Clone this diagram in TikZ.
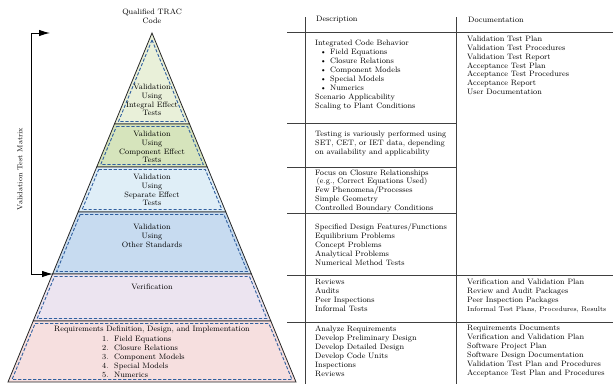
\documentclass[tikz,border=0pt]{standalone}
\usepackage{xcolor}
\usepackage{tikz}
\usetikzlibrary{arrows.meta, calc}
\definecolor{IntGreen}{RGB}{233,240,217}
\definecolor{CompGreen}{RGB}{214,228,188}
\definecolor{SepBlue}{RGB}{223,238,247}
\definecolor{OthBlue}{RGB}{199,219,240}
\definecolor{VerLav}{RGB}{236,228,240}
\definecolor{ReqPink}{RGB}{246,223,223}
\definecolor{DashBlue}{RGB}{47,95,160}

\begin{document}
\begin{tikzpicture}[x=1pt, y=-1pt,
      layer/.style={draw=black!85, line width=0.8pt},
      inset/.style={draw=DashBlue, line width=0.9pt, dash pattern=on 3.2pt off 1.8pt},
      lbl/.style={font=\fontsize{7.8}{8.8}\selectfont, align=center, inner sep=0pt},
      cell/.style={font=\fontsize{7.8}{9}\selectfont, align=left,
                   anchor=north west, inner sep=0pt},
      rule/.style={draw=black!75, line width=0.7pt}
    ]
    \useasboundingbox (0,0) rectangle (613,384);

    % Pyramid corners
    \coordinate (apex) at (152,33);
    \coordinate (bl) at (8,382);
    \coordinate (br) at (296,382);

    % Top layer
    \pgfmathsetmacro\tb{(124-33)/349}
    \pgfmathsetmacro\td{(121.5-33)/349}
    \filldraw[layer, fill=IntGreen] (apex) -- ($(apex)!\tb!(br)$) -- ($(apex)!\tb!(bl)$) -- cycle;
    \draw[inset] ($(apex)+(0,7)$) -- ($(apex)!\td!(br)+(-3,0)$) -- ($(apex)!\td!(bl)+(3,0)$) -- cycle;

    % Lower layers
    \foreach \ya/\yb/\col in {124/167/CompGreen, 167/212/SepBlue, 212/274/OthBlue,
                              274/321/VerLav, 321/382/ReqPink} {
      \pgfmathsetmacro\ta{(\ya-33)/349}
      \pgfmathsetmacro\tb{(\yb-33)/349}
      \pgfmathsetmacro\tc{(\ya+2.5-33)/349}
      \pgfmathsetmacro\td{(\yb-2.5-33)/349}
      \filldraw[layer, fill=\col] ($(apex)!\ta!(bl)$) -- ($(apex)!\ta!(br)$)
        -- ($(apex)!\tb!(br)$) -- ($(apex)!\tb!(bl)$) -- cycle;
      \draw[inset] ($(apex)!\tc!(bl)+(3,0)$) -- ($(apex)!\tc!(br)+(-3,0)$)
        -- ($(apex)!\td!(br)+(-3,0)$) -- ($(apex)!\td!(bl)+(3,0)$) -- cycle;
    }

    % Pyramid labels
    \node[lbl] (trac) at (152,16) {Qualified TRAC\\Code};
    \node[lbl] (integ) at (152,100) {Validation\\Using\\Integral Effect\\Tests};
    \node[lbl] (comp) at (152,147) {Validation\\Using\\Component Effect\\Tests};
    \node[lbl] (sep) at (152,190) {Validation\\Using\\Separate Effect\\Tests};
    \node[lbl] (other) at (152,236) {Validation\\Using\\Other Standards};
    \node[lbl] (verif) at (152,287) {Verification};
    \node[lbl] (reqs) at (152,330) {Requirements Definition, Design, and Implementation};
    \node[cell] (reqlist) at (102,336)
          {1.\ \ Field Equations\\2.\ \ Closure Relations\\3.\ \ Component Models\\
           4.\ \ Special Models\\5.\ \ Numerics};

    % Validation matrix bracket
    \node[lbl, rotate=90, font=\fontsize{7.2}{8}\selectfont] (matrix) at (20,169) {Validation Test Matrix};
    \coordinate (mtip) at (50,33);
    \coordinate (mtop) at (31,33);
    \coordinate (mbot) at (31,274);
    \coordinate (mend) at (53,274);
    \draw[line width=1pt, {Latex[length=11pt,width=6.5pt]}-{Latex[length=11pt,width=6.5pt]}]
          (mtip) -- (mtop) -- (mbot) -- (mend);

    % Table rules
    \draw[rule] (305,17) -- (305,384);
    \draw[rule] (456,17) -- (456,384);
    \foreach \y in {32,275,322} {
      \draw[rule] (287,\y) -- (613,\y);
    }
    \foreach \y in {123,167,213} {
      \draw[rule] (287,\y) -- (456,\y);
    }

    % Headers
    \node[cell, anchor=west] (deschead) at (316,20) {Description};
    \node[cell, anchor=west] (dochead) at (468,20) {Documentation};

    % Description column
    \node[cell] (descint) at (315,40)
          {Integrated Code Behavior\\
           \hspace{5pt}\textbullet\hspace{3.5pt}Field Equations\\
           \hspace{5pt}\textbullet\hspace{3.5pt}Closure Relations\\
           \hspace{5pt}\textbullet\hspace{3.5pt}Component Models\\
           \hspace{5pt}\textbullet\hspace{3.5pt}Special Models\\
           \hspace{5pt}\textbullet\hspace{3.5pt}Numerics\\
           Scenario Applicability\\Scaling to Plant Conditions};
    \node[cell] (desccomp) at (315,131)
          {Testing is variously performed using\\SET, CET, or IET data, depending\\
           on availability and applicability};
    \node[cell, font=\fontsize{7.8}{8.8}\selectfont] (descsep) at (315,169.5)
          {Focus on Closure Relationships\\\hspace{1.5pt}(e.g., Correct Equations Used)\\
           Few Phenomena/Processes\\Simple Geometry\\Controlled Boundary Conditions};
    \node[cell] (descoth) at (315,223)
          {Specified Design Features/Functions\\Equilibrium Problems\\Concept Problems\\
           Analytical Problems\\Numerical Method Tests};
    \node[cell] (descver) at (315,279)
          {Reviews\\Audits\\Peer Inspections\\Informal Tests};
    \node[cell] (descreq) at (315,326)
          {Analyze Requirements\\Develop Preliminary Design\\Develop Detailed Design\\
           Develop Code Units\\Inspections\\Reviews};

    % Documentation column
    \node[cell, font=\fontsize{7.8}{8.8}\selectfont] (docval) at (467,36)
          {Validation Test Plan\\Validation Test Procedures\\Validation Test Report\\
           Acceptance Test Plan\\Acceptance Test Procedures\\Acceptance Report\\
           User Documentation};
    \node[cell] (docver) at (467,279)
          {Verification and Validation Plan\\Review and Audit Packages\\
           Peer Inspection Packages\\
           {\fontsize{6.8}{9}\selectfont Informal Test Plans, Procedures, Results}};
    \node[cell] (docreq) at (467,325)
          {Requirements Documents\\Verification and Validation Plan\\Software Project Plan\\
           Software Design Documentation\\Validation Test Plan and Procedures\\
           Acceptance Test Plan and Procedures};
  \end{tikzpicture}
\end{document}
